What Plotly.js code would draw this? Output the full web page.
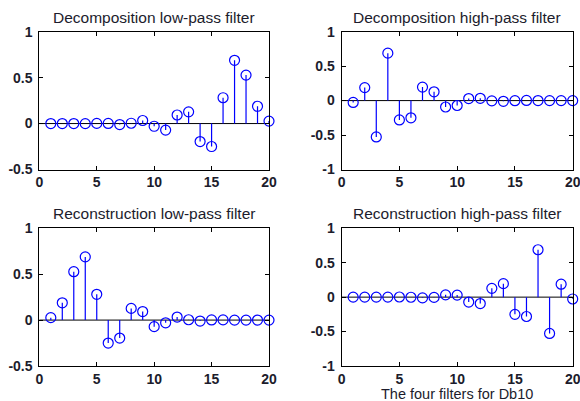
<!DOCTYPE html>
<html><head><meta charset="utf-8">
<script src="https://cdn.plot.ly/plotly-3.0.1.min.js"></script>
<style>html,body{margin:0;padding:0;background:#fff}#plot{width:580px;height:401px}</style>
</head><body><div id="plot"></div>
<script>
const n = [1,2,3,4,5,6,7,8,9,10,11,12,13,14,15,16,17,18,19,20];
const loD = [-0.0000133,0.0000936,-0.0001165,-0.0006859,0.0019925,0.0013954,-0.0107332,0.0036066,0.0332127,-0.0294575,-0.0713941,0.0930574,0.1273693,-0.1959463,-0.2498464,0.2811723,0.6884590,0.5272012,0.1881768,0.0266701];
const hiD = [-0.0266701,0.1881768,-0.5272012,0.6884590,-0.2811723,-0.2498464,0.1959463,0.1273693,-0.0930574,-0.0713941,0.0294575,0.0332127,-0.0036066,-0.0107332,-0.0013954,0.0019925,0.0006859,-0.0001165,-0.0000936,-0.0000133];
const loR = [0.0266701,0.1881768,0.5272012,0.6884590,0.2811723,-0.2498464,-0.1959463,0.1273693,0.0930574,-0.0713941,-0.0294575,0.0332127,0.0036066,-0.0107332,0.0013954,0.0019925,-0.0006859,-0.0001165,0.0000936,-0.0000133];
const hiR = [-0.0000133,-0.0000936,-0.0001165,0.0006859,0.0019925,-0.0013954,-0.0107332,-0.0036066,0.0332127,0.0294575,-0.0713941,-0.0930574,0.1273693,0.1959463,-0.2498464,-0.2811723,0.6884590,-0.5272012,0.1881768,-0.0266701];
const titles = ['Decomposition low-pass filter','Decomposition high-pass filter','Reconstruction low-pass filter','Reconstruction high-pass filter'];
const xlabel = 'The four filters for Db10';
const xticks = [0,5,10,15,20];
const yticksLow = [-0.5,0,0.5,1];
const yticksHigh = [-1,-0.5,0,0.5,1];
const series = [loD, hiD, loR, hiR];

const blue = '#0000ff';
const traces = [];
const axs = ['', '2', '3', '4'];
series.forEach((v, i) => {
  const sx = [], sy = [];
  n.forEach((k, j) => { sx.push(k, k, null); sy.push(0, v[j], null); });
  const xa = 'x' + axs[i], ya = 'y' + axs[i];
  traces.push({x: sx, y: sy, xaxis: xa, yaxis: ya, mode: 'lines', line: {color: blue, width: 1.2}, hoverinfo: 'skip', showlegend: false});
  traces.push({x: n, y: v, xaxis: xa, yaxis: ya, mode: 'markers', marker: {symbol: 'circle-open', size: 10, color: blue, line: {width: 1.2, color: blue}}, showlegend: false, cliponaxis: false});
});

const xd = [[0.0678, 0.4638], [0.589, 0.9874]];
const yd = [[0.5773, 0.921], [0.0873, 0.4307]];
const FAM = 'Liberation Sans, Arial, sans-serif';
const tickFont = {family: FAM, size: 14, color: '#1c1c2c', weight: 'bold'};
const textFont = {family: FAM, size: 15.5, color: '#1c1c2c'};
function xax(dom, anchor) {
  return {domain: dom, anchor: anchor, range: [0, 20], tickvals: xticks, ticktext: xticks.map(String),
    showline: true, mirror: 'ticks', linecolor: '#000', linewidth: 1, ticks: 'inside', ticklen: 4, tickcolor: '#000',
    showgrid: false, zeroline: false, tickfont: tickFont, fixedrange: true, ticklabelstandoff: 0, ticklabeloverflow: 'allow'};
}
function yax(dom, anchor, tv) {
  return {domain: dom, anchor: anchor, range: [tv[0], 1], tickvals: tv, ticktext: tv.map(String),
    showline: true, mirror: 'ticks', linecolor: '#000', linewidth: 1, ticks: 'inside', ticklen: 4, tickcolor: '#000',
    showgrid: false, zeroline: false, tickfont: tickFont, fixedrange: true, ticklabelstandoff: 3, ticklabeloverflow: 'allow'};
}
function ann(text, x, ypx, size) {
  return {text: text, x: x, y: 1 - ypx/401, xref: 'paper', yref: 'paper', xanchor: 'center', yanchor: 'middle', showarrow: false,
    font: Object.assign({}, textFont, size ? {size: size} : {})};
}
const cx0 = (xd[0][0]+xd[0][1])/2, cx1 = (xd[1][0]+xd[1][1])/2;
const layout = {
  width: 580, height: 401, margin: {l: 0, r: 0, t: 0, b: 0},
  paper_bgcolor: '#fff', plot_bgcolor: '#fff', showlegend: false,
  xaxis: xax(xd[0], 'y'), yaxis: yax(yd[0], 'x', yticksLow),
  xaxis2: xax(xd[1], 'y2'), yaxis2: yax(yd[0], 'x2', yticksHigh),
  xaxis3: xax(xd[0], 'y3'), yaxis3: yax(yd[1], 'x3', yticksLow),
  xaxis4: xax(xd[1], 'y4'), yaxis4: yax(yd[1], 'x4', yticksHigh),
  shapes: axs.map(a => ({type: 'line', xref: 'x' + a + ' domain', yref: 'y' + a, x0: 0, x1: 1, y0: 0, y1: 0, line: {color: '#000', width: 1}, layer: 'below'})),
  annotations: [
    ann(titles[0], cx0, 17), ann(titles[1], cx1, 17),
    ann(titles[2], cx0, 214), ann(titles[3], cx1, 214),
    ann(xlabel, cx1, 393.5, 14.5)
  ]
};
Plotly.newPlot('plot', traces, layout, {displayModeBar: false, staticPlot: true});
</script></body></html>
